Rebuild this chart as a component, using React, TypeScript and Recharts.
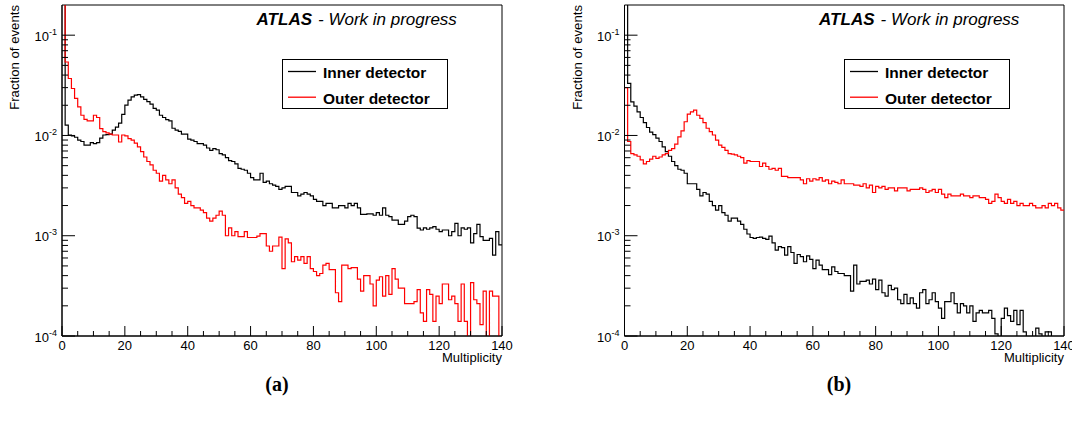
import React from 'react';
import { LineChart, Line, XAxis, YAxis, ReferenceArea, Legend } from 'recharts';

// Bin lower edges of the multiplicity histograms (0..139, width 1)
const multiplicityTicks = [0, 5, 10, 15, 20, 25, 30, 35, 40, 45, 50, 55, 60, 65, 70, 75, 80, 85, 90, 95, 100, 105, 110, 115, 120, 125, 130, 135, 140];
const fractionTicks = [
  1e-4, 2e-4, 3e-4, 4e-4, 5e-4, 6e-4, 7e-4, 8e-4, 9e-4,
  1e-3, 2e-3, 3e-3, 4e-3, 5e-3, 6e-3, 7e-3, 8e-3, 9e-3,
  1e-2, 2e-2, 3e-2, 4e-2, 5e-2, 6e-2, 7e-2, 8e-2, 9e-2,
  1e-1,
];

// Panel (a)
const innerA = [
  0.3, 0.0127, 0.0101, 0.0099, 0.0096, 0.009, 0.0087, 0.008, 0.008, 0.0085,
  0.0083, 0.0085, 0.0094, 0.0101, 0.0102, 0.0103, 0.0113, 0.0121, 0.0133, 0.0162,
  0.0201, 0.0225, 0.0242, 0.0252, 0.0255, 0.0242, 0.0229, 0.0217, 0.0205, 0.0186,
  0.0179, 0.0159, 0.0151, 0.0144, 0.014, 0.0118, 0.0113, 0.011, 0.0103, 0.0103,
  0.0092, 0.009, 0.0087, 0.0083, 0.0083, 0.008, 0.0075, 0.0071, 0.0074, 0.0072,
  0.0066, 0.0064, 0.006, 0.0056, 0.0055, 0.0052, 0.0047, 0.0046, 0.0045, 0.0042,
  0.0038, 0.0036, 0.0036, 0.0042, 0.0034, 0.0035, 0.0033, 0.0032, 0.0031, 0.0029,
  0.003, 0.0031, 0.0031, 0.0027, 0.0027, 0.0025, 0.0026, 0.0027, 0.0026, 0.0025,
  0.0023, 0.0022, 0.0022, 0.002, 0.0021, 0.0021, 0.0019, 0.0019, 0.002, 0.002,
  0.0019, 0.0021, 0.002, 0.0021, 0.0019, 0.00163, 0.00163, 0.00165, 0.00165, 0.0016,
  0.0017, 0.0016, 0.0019, 0.0016, 0.00155, 0.00143, 0.00143, 0.0013, 0.0013, 0.0014,
  0.00155, 0.0016, 0.00155, 0.00119, 0.00114, 0.0012, 0.00116, 0.0012, 0.00123, 0.00116,
  0.0011, 0.00114, 0.00114, 0.001, 0.0011, 0.00133, 0.001, 0.0012, 0.00116, 0.0012,
  0.00085, 0.00105, 0.0013, 0.00098, 0.0009, 0.0009, 0.00094, 0.00064, 0.0011, 0.00081,
];
const outerA = [
  0.3, 0.054, 0.037, 0.0294, 0.0234, 0.0193, 0.0159, 0.0145, 0.014, 0.014,
  0.0159, 0.0151, 0.0117, 0.0109, 0.0106, 0.0103, 0.0101, 0.0101, 0.0086, 0.0101,
  0.0099, 0.0093, 0.009, 0.0084, 0.0077, 0.0069, 0.0061, 0.0055, 0.0051, 0.0045,
  0.0042, 0.0035, 0.004, 0.0036, 0.0033, 0.0036, 0.003, 0.0026, 0.0024, 0.0021,
  0.0022, 0.002, 0.0019, 0.0019, 0.0018, 0.0017, 0.0015, 0.0014, 0.0015, 0.0016,
  0.00176, 0.0016, 0.001, 0.0012, 0.001, 0.0011, 0.00098, 0.00098, 0.0011, 0.00096,
  0.00096, 0.00096, 0.00099, 0.00105, 0.00105, 0.00079, 0.0007, 0.00079, 0.00079, 0.00097,
  0.00047, 0.00093, 0.00085, 0.00055, 0.00062, 0.00057, 0.00062, 0.00053, 0.00062, 0.00047,
  0.00044, 0.0004, 0.00042, 0.00051, 0.00053, 0.00046, 0.00046, 0.00027, 0.00022, 0.00051,
  0.00051, 0.00047, 0.00048, 0.00048, 0.00037, 0.00028, 0.0004, 0.0004, 0.00033, 0.0002,
  0.00036, 0.00039, 0.00025, 0.0004, 0.00026, 0.00047, 0.00037, 0.0003, 0.0003, 0.00021,
  0.00021, 0.00021, 0.00022, 0.00029, 0.00017, 0.00014, 0.00029, 0.00026, 0.00014, 0.00025,
  0.00021, 0.00033, 0.00033, 0.00023, 0.00025, 0.00021, 0.00014, 0.00033, 0.00014, 0.00005,
  0.00034, 0.00023, 0.00021, 0.00013, 0.00028, 0.00005, 0.00028, 0.00025, 0.00025, 0.00005,
];

// Panel (b)
const innerB = [
  0.3, 0.033, 0.0216, 0.0196, 0.0172, 0.0151, 0.0134, 0.012, 0.0108, 0.0102,
  0.0094, 0.0087, 0.0077, 0.0069, 0.0062, 0.0055, 0.005, 0.0046, 0.0045, 0.0042,
  0.0033, 0.0033, 0.0033, 0.0029, 0.0025, 0.0027, 0.0026, 0.0022, 0.002, 0.0018,
  0.002, 0.0017, 0.0016, 0.0014, 0.0015, 0.0015, 0.0014, 0.0013, 0.00116, 0.00104,
  0.00096, 0.00094, 0.00096, 0.00097, 0.00094, 0.00092, 0.00099, 0.00085, 0.00072, 0.00078,
  0.00076, 0.00064, 0.00078, 0.00068, 0.00053, 0.00065, 0.00062, 0.00055, 0.00063, 0.00058,
  0.00047, 0.00057, 0.00051, 0.00046, 0.00046, 0.00041, 0.00049, 0.00044, 0.00042, 0.00042,
  0.0004, 0.0004, 0.00028, 0.00051, 0.00033, 0.00035, 0.00035, 0.00036, 0.00033, 0.00037,
  0.00029, 0.00036, 0.00027, 0.00025, 0.00032, 0.00029, 0.0003, 0.00023, 0.00021, 0.00026,
  0.00021, 0.00024, 0.00021, 0.00019, 0.00027, 0.00029, 0.00021, 0.00023, 0.00027, 0.00022,
  0.00019, 0.00015, 0.00022, 0.00022, 0.00027, 0.00021, 0.00017, 0.00021, 0.0002, 0.00017,
  0.0002, 0.00014, 0.00017, 0.00018, 0.00017, 0.00017, 0.00018, 0.00015, 0.000105, 0.00005,
  0.00015, 0.00019, 0.00016, 0.00014, 0.00018, 0.00013, 0.00018, 0.00011, 0.00005, 0.00005,
  0.00005, 0.00012, 0.000105, 0.00005, 0.00011, 0.00011, 0.00005, 0.00005, 0.00005, 0.00005,
];
const outerB = [
  0.0299, 0.0087, 0.0066, 0.0064, 0.0062, 0.0057, 0.0052, 0.0055, 0.0058, 0.0062,
  0.0059, 0.0061, 0.0064, 0.0066, 0.0071, 0.0074, 0.0082, 0.0097, 0.0111, 0.0137,
  0.0163, 0.0172, 0.0179, 0.0159, 0.0148, 0.0134, 0.0118, 0.0109, 0.0101, 0.009,
  0.008, 0.0076, 0.0071, 0.0066, 0.0065, 0.0064, 0.0062, 0.006, 0.0053, 0.0056,
  0.0055, 0.0055, 0.0055, 0.0049, 0.0053, 0.0049, 0.0046, 0.0047, 0.0045, 0.0047,
  0.0039, 0.0039, 0.0038, 0.0038, 0.0038, 0.0038, 0.0036, 0.0033, 0.0037, 0.0035,
  0.0037, 0.0036, 0.0038, 0.0035, 0.0036, 0.0033, 0.0035, 0.0034, 0.0033, 0.0036,
  0.0033, 0.0033, 0.0033, 0.0032, 0.0032, 0.0031, 0.0033, 0.003, 0.0032, 0.0027,
  0.0031, 0.003, 0.0031, 0.0029, 0.003, 0.003, 0.0028, 0.003, 0.003, 0.003,
  0.0028, 0.0029, 0.0029, 0.0029, 0.003, 0.0029, 0.0027, 0.0028, 0.0029, 0.0027,
  0.0029, 0.0026, 0.0024, 0.0026, 0.0025, 0.0025, 0.0025, 0.0026, 0.0025, 0.0025,
  0.0024, 0.0025, 0.0025, 0.0024, 0.0024, 0.0023, 0.0021, 0.0022, 0.0026, 0.0024,
  0.0022, 0.0021, 0.0023, 0.0021, 0.0022, 0.002, 0.0021, 0.002, 0.002, 0.0021,
  0.002, 0.0019, 0.0019, 0.002, 0.0019, 0.0021, 0.002, 0.0021, 0.0019, 0.0018,
];

const seriesNames = ['Inner detector', 'Outer detector'];
const seriesColors = ['#000000', '#ff0000'];
const panelLabels = ['(a)', '(b)'];

const SANS = '"Liberation Sans", Arial, Helvetica, sans-serif';

function buildRows(inner: number[], outer: number[]) {
  const rows = inner.map((v, i) => ({ m: i, inner: v, outer: outer[i] }));
  // closing edge of the last bin for the step drawing
  rows.push({ m: inner.length, inner: inner[inner.length - 1], outer: outer[outer.length - 1] });
  return rows;
}

const XTick = (props: any) => {
  const { x, y, payload } = props;
  const v = payload.value;
  const major = v % 20 === 0;
  return (
    <g>
      <line x1={x} x2={x} y1={y} y2={y - (major ? 10 : 5)} stroke="#000" strokeWidth={1} />
      {major && (
        <text x={x} y={y + 14} textAnchor="middle" fontSize={13} fontFamily={SANS} fill="#000">
          {v}
        </text>
      )}
    </g>
  );
};

const YTick = (props: any) => {
  const { x, y, payload } = props;
  const v = payload.value;
  const e = Math.log10(v);
  const major = Math.abs(e - Math.round(e)) < 1e-6;
  return (
    <g>
      <line x1={x} x2={x + (major ? 13 : 6)} y1={y} y2={y} stroke="#000" strokeWidth={1} />
      {major && (
        <text x={x - 5} y={y + 5.5} textAnchor="end" fontSize={13} fontFamily={SANS} fill="#000">
          10
          <tspan dy={-6} fontSize={9}>{String(Math.round(e))}</tspan>
        </text>
      )}
    </g>
  );
};

const LegendBox = () => (
  <svg width={166} height={50} style={{ display: 'block' }}>
    <rect x={0.5} y={0.5} width={165} height={49} fill="#fff" stroke="#000" strokeWidth={1} />
    {seriesNames.map((n, i) => (
      <g key={n}>
        <line x1={6} x2={34} y1={12.5 + i * 25.7} y2={12.5 + i * 25.7} stroke={seriesColors[i]} strokeWidth={1.3} />
        <text x={41} y={18.8 + i * 26} fontSize={15.5} fontWeight="bold" fontFamily={SANS} fill="#000">
          {n}
        </text>
      </g>
    ))}
  </svg>
);

type PanelProps = { inner: number[]; outer: number[]; yAxisWidth: number; rightMargin: number; legendLeft: number };

const Panel = ({ inner, outer, yAxisWidth, rightMargin, legendLeft }: PanelProps) => {
  const rows = buildRows(inner, outer);
  return (
    <LineChart width={536} height={425} data={rows} margin={{ top: 5, right: rightMargin, left: 0, bottom: 0 }}>
      <XAxis
        dataKey="m"
        type="number"
        domain={[0, 140]}
        ticks={multiplicityTicks}
        interval={0}
        tickSize={0}
        tickMargin={0}
        tickLine={false}
        tick={<XTick />}
        height={89}
        axisLine={{ stroke: '#000' }}
      />
      <YAxis
        type="number"
        scale="log"
        domain={[1e-4, 0.2]}
        allowDataOverflow
        ticks={fractionTicks}
        interval={0}
        tickSize={0}
        tickMargin={0}
        tickLine={false}
        tick={<YTick />}
        width={yAxisWidth}
        axisLine={{ stroke: '#000' }}
      />
      <ReferenceArea x1={0} x2={140} y1={1e-4} y2={0.2} fill="none" stroke="#000" strokeWidth={1} ifOverflow="visible" />
      <Line type="stepAfter" dataKey="inner" name={seriesNames[0]} stroke={seriesColors[0]} strokeWidth={1.2} dot={false} isAnimationActive={false} />
      <Line type="stepAfter" dataKey="outer" name={seriesNames[1]} stroke={seriesColors[1]} strokeWidth={1.2} dot={false} isAnimationActive={false} />
      <Legend
        layout="horizontal"
        verticalAlign="middle"
        align="center"
        wrapperStyle={{ left: legendLeft, top: 59, width: 166, height: 50 }}
        content={() => <LegendBox />}
      />
    </LineChart>
  );
};

const Texts = ({ plotLeft, plotRight, caption, captionX }: { plotLeft: number; plotRight: number; caption: string; captionX: number }) => (
  <g fontFamily={SANS} fill="#000">
    <text x={plotLeft + 194.6} y={25} fontSize={17} fontWeight="bold" fontStyle="italic">ATLAS</text>
    <text x={plotLeft + 256} y={25} fontSize={17} fontStyle="italic">- Work in progress</text>
    <text transform={`translate(${plotLeft - 43}, 5) rotate(-90)`} textAnchor="end" fontSize={13.2}>
      Fraction of events
    </text>
    <text x={plotRight} y={362} textAnchor="end" fontSize={13}>Multiplicity</text>
    <text x={captionX} y={391} textAnchor="middle" fontSize={20} fontWeight="bold" fontFamily='"Liberation Serif", "DejaVu Serif", serif'>
      {caption}
    </text>
  </g>
);

export default function App() {
  return (
    <div style={{ position: 'absolute', left: 0, top: 0, width: 1072, height: 425, background: '#fff', overflow: 'hidden' }}>
      <div style={{ position: 'absolute', left: 0, top: 0 }}>
        <Panel inner={innerA} outer={outerA} yAxisWidth={62} rightMargin={34} legendLeft={282} />
      </div>
      <div style={{ position: 'absolute', left: 536, top: 0 }}>
        <Panel inner={innerB} outer={outerB} yAxisWidth={88.5} rightMargin={8} legendLeft={308.4} />
      </div>
      <svg width={1072} height={425} style={{ position: 'absolute', left: 0, top: 0, pointerEvents: 'none' }}>
        <Texts plotLeft={62} plotRight={502} caption={panelLabels[0]} captionX={277} />
        <Texts plotLeft={624.5} plotRight={1064} caption={panelLabels[1]} captionX={839} />
      </svg>
    </div>
  );
}
